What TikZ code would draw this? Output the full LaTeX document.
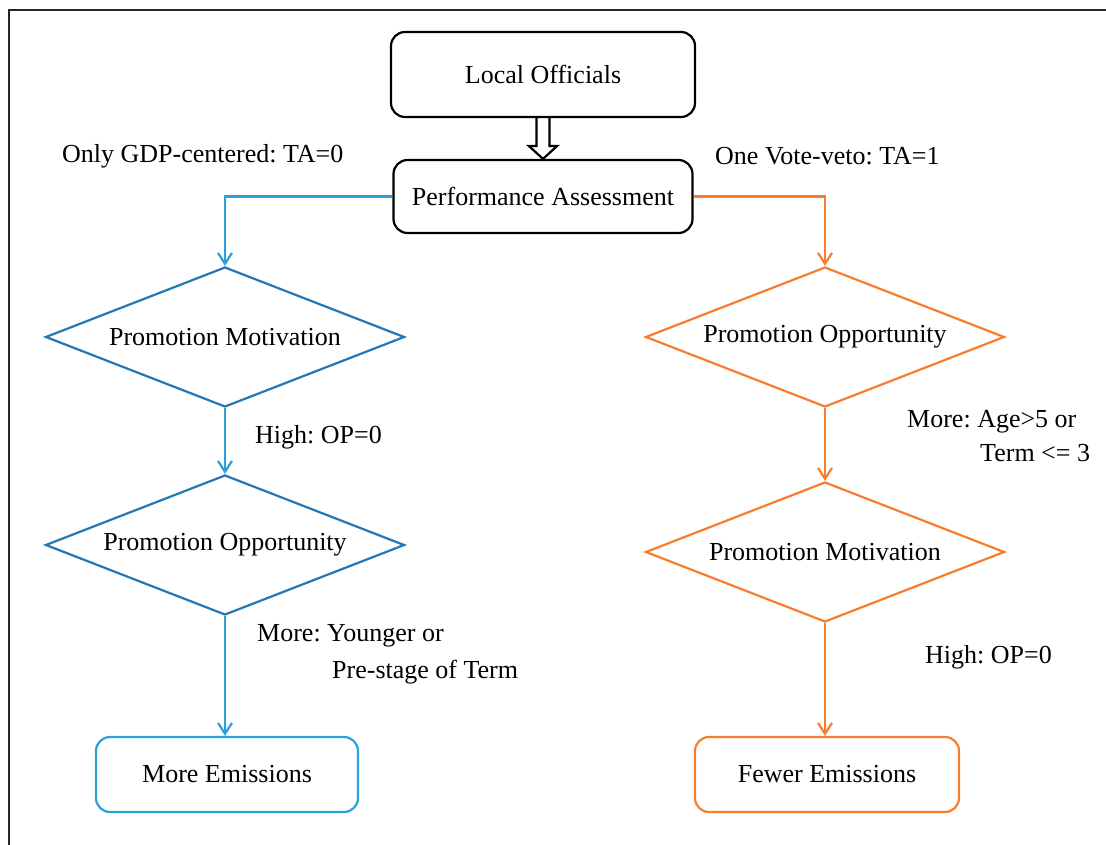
\documentclass[tikz,border=0pt]{standalone}
\usepackage{fontspec}
\setmainfont{Liberation Serif}
\usepackage{tikz}
\usetikzlibrary{arrows.meta}
\usetikzlibrary{shapes.geometric}
\usetikzlibrary{calc}
\definecolor{lineblue}{RGB}{45,160,220}
\definecolor{diablue}{RGB}{35,120,180}
\definecolor{orng}{RGB}{250,125,45}
\tikzset{
  rbox/.style={draw, rounded corners=14pt, line width=2.2pt},
  dia/.style={diamond, aspect=2.56, inner sep=0pt, line width=2.2pt,
    minimum width=359pt, minimum height=140pt},
  lbl/.style={anchor=west, inner sep=0pt},
  barb/.style={-{Straight Barb[length=11pt,width=14pt]}, line width=2.2pt}
}
\frenchspacing

\begin{document}
\begin{tikzpicture}[x=1pt,y=-1pt,font=\fontsize{26}{30}\selectfont]
\useasboundingbox (0,0) rectangle (1106,845);
\draw[line width=2.5pt, black!85] (9,845) -- (9,10) -- (1106,10);
\node[rbox, minimum width=304pt, minimum height=85pt] (local) at (543,74.5) {Local Officials};
\node[rbox, minimum width=299pt, minimum height=73pt] (assess) at (543,196.5) {Performance Assessment};
\draw[line width=2.2pt] ($(local.south)+(-6.5,0)$) -- ($(local.south)+(-6.5,28)$) -- ($(local.south)+(-14,28)$) -- (assess.north) -- ($(local.south)+(14,28)$) -- ($(local.south)+(6.5,28)$) -- ($(local.south)+(6.5,0)$);
\node[dia, draw=diablue] (lmot) at (225,337) {Promotion Motivation};
\node[dia, draw=diablue] (lopp) at (225,545) {Promotion Opportunity};
\node[rbox, draw=lineblue, minimum width=262pt, minimum height=75pt] (more) at (227,774.5) {More Emissions};
\node[dia, draw=orng] (ropp) at (825,337) {Promotion Opportunity};
\node[dia, draw=orng] (rmot) at (825,552) {Promotion Motivation};
\node[rbox, draw=orng, minimum width=264pt, minimum height=75pt] (fewer) at (827,774.5) {Fewer Emissions};
\draw[lineblue, barb] (assess.west) -| (lmot.north);
\draw[lineblue, barb] (lmot.south) -- (lopp.north);
\draw[lineblue, barb] (lopp.south) -- (lopp.south |- more.north);
\draw[orng, barb] (assess.east) -| (ropp.north);
\draw[orng, barb] (ropp.south) -- (rmot.north);
\draw[orng, barb] (rmot.south) -- (rmot.south |- fewer.north);
\node[lbl] (gdp) at (62,156) {Only GDP-centered: TA=0};
\node[lbl] (veto) at (715,156) {One Vote-veto: TA=1};
\node[lbl] (lhigh) at (255,437) {High: OP=0};
\node[lbl] (young) at (257,636) {More: Younger or};
\node[lbl] (prestage) at (332,672) {Pre-stage of Term};
\node[lbl] (age) at (907,422) {More: Age>5 or};
\node[lbl] (term) at (980,453) {Term <= 3};
\node[lbl] (rhigh) at (925,657) {High: OP=0};
\end{tikzpicture}
\end{document}
